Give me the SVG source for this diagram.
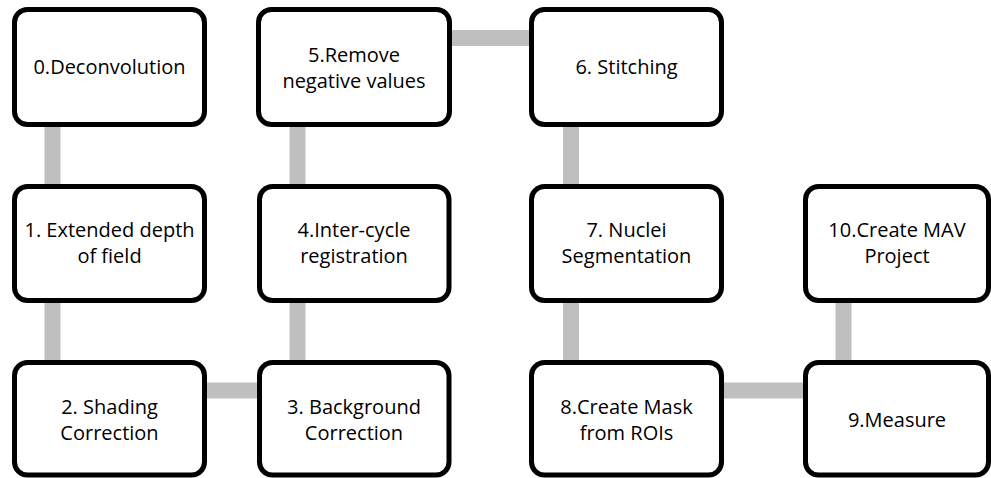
<svg xmlns="http://www.w3.org/2000/svg" width="991" height="478" viewBox="0 0 991 478">
<style>
.box{fill:#fff;stroke:#000;stroke-width:5}
.c{stroke:#bfbfbf;stroke-width:16;fill:none}
text{font-family:"Open Sans","Noto Sans",sans-serif;font-size:20px;fill:#000;text-anchor:middle}
</style>
<rect width="991" height="478" fill="#fff"/>
<g id="connectors">
<line class="c" x1="52.5" y1="120" x2="52.5" y2="190"/>
<line class="c" x1="52.5" y1="298" x2="52.5" y2="366"/>
<line class="c" x1="204" y1="390.5" x2="261" y2="390.5"/>
<line class="c" x1="297.5" y1="298" x2="297.5" y2="366"/>
<line class="c" x1="297.5" y1="120" x2="297.5" y2="190"/>
<line class="c" x1="449" y1="38" x2="533" y2="38"/>
<line class="c" x1="571" y1="120" x2="571" y2="190"/>
<line class="c" x1="571" y1="298" x2="571" y2="366"/>
<line class="c" x1="720" y1="390.5" x2="808" y2="390.5"/>
<line class="c" x1="843.5" y1="298" x2="843.5" y2="366"/>
</g>
<g id="n0"><rect class="box" x="14.5" y="9.5" width="190" height="115" rx="13"/><text x="109.5" y="74">0.Deconvolution</text></g>
<g id="n1"><rect class="box" x="14.5" y="186.5" width="190" height="114" rx="13"/><text x="109.5" y="237">1. Extended depth</text><text x="109.5" y="263">of field</text></g>
<g id="n2"><rect class="box" x="14.5" y="362.5" width="190" height="112.5" rx="13"/><text x="109.5" y="414">2. Shading</text><text x="109.5" y="440">Correction</text></g>
<g id="n3"><rect class="box" x="259.5" y="362.5" width="189.5" height="112.5" rx="13"/><text x="354" y="414">3. Background</text><text x="354" y="440">Correction</text></g>
<g id="n4"><rect class="box" x="259.5" y="186.5" width="189.5" height="114" rx="13"/><text x="354" y="237">4.Inter-cycle</text><text x="354" y="263">registration</text></g>
<g id="n5"><rect class="box" x="258.5" y="9.5" width="191" height="115" rx="13"/><text x="354" y="62">5.Remove</text><text x="354" y="88">negative values</text></g>
<g id="n6"><rect class="box" x="531.5" y="9.5" width="190" height="115" rx="13"/><text x="626.5" y="74">6. Stitching</text></g>
<g id="n7"><rect class="box" x="531.5" y="186.5" width="190" height="114" rx="13"/><text x="626.5" y="237">7. Nuclei</text><text x="626.5" y="263">Segmentation</text></g>
<g id="n8"><rect class="box" x="531.5" y="362.5" width="190" height="112.5" rx="13"/><text x="626.5" y="414">8.Create Mask</text><text x="626.5" y="440">from ROIs</text></g>
<g id="n9"><rect class="box" x="805.5" y="362.5" width="183" height="112.5" rx="13"/><text x="897" y="427">9.Measure</text></g>
<g id="n10"><rect class="box" x="805.5" y="186.5" width="183" height="114" rx="13"/><text x="897" y="237">10.Create MAV</text><text x="897" y="263">Project</text></g>
</svg>
